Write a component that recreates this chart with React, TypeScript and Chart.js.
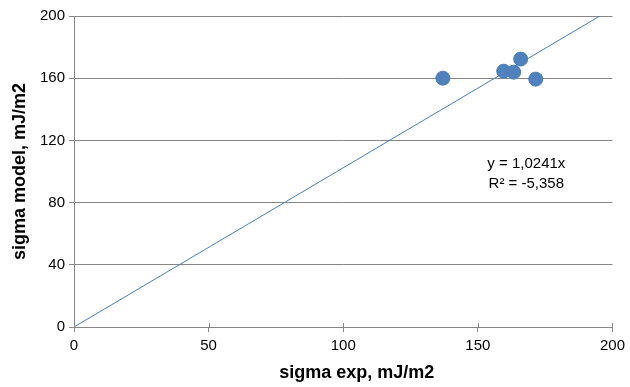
import React, { useEffect, useRef } from "react";
import { Chart, registerables } from "chart.js";

Chart.register(...registerables);

const expValues = [137.0, 159.6, 163.3, 165.9, 171.5];
const modelValues = [160.0, 164.5, 163.9, 172.3, 159.4];
const trendX = [0, 195.3];
const trendY = [0, 200];
const xTicks = [0, 50, 100, 150, 200];
const yTicks = [0, 40, 80, 120, 160, 200];
const equationLines = ["y = 1,0241x", "R\u00B2 = -5,358"];
const xTitle = "sigma exp, mJ/m2";
const yTitle = "sigma model, mJ/m2";

const FONT = "'Liberation Sans', Arial, sans-serif";
const GRID = "#868686";

const extras = {
  id: "extras",
  afterDraw(chart: any) {
    const { ctx, scales, chartArea } = chart;
    const xs = scales.x;
    const ys = scales.y;
    ctx.save();
    // upward tick marks on x axis
    ctx.strokeStyle = GRID;
    ctx.lineWidth = 1;
    xTicks.forEach((v) => {
      const px = Math.round(xs.getPixelForValue(v)) + 0.5;
      ctx.beginPath();
      ctx.moveTo(px, chartArea.bottom);
      ctx.lineTo(px, chartArea.bottom - 4);
      ctx.stroke();
    });
    // equation text
    ctx.fillStyle = "#000";
    ctx.font = `15px ${FONT}`;
    ctx.textAlign = "center";
    ctx.textBaseline = "middle";
    const cx = xs.getPixelForValue(168);
    ctx.fillText(equationLines[0], cx, ys.getPixelForValue(105));
    ctx.fillText(equationLines[1], cx, ys.getPixelForValue(92));
    // x axis title
    ctx.font = `bold 18px ${FONT}`;
    ctx.fillText(xTitle, xs.getPixelForValue(105), chartArea.bottom + 46);
    ctx.restore();
  },
};

export default function App() {
  const ref = useRef<HTMLCanvasElement | null>(null);
  useEffect(() => {
    if (!ref.current) return;
    const chart = new Chart(ref.current, {
      type: "scatter",
      data: {
        datasets: [
          {
            label: "trend",
            data: trendX.map((x, i) => ({ x, y: trendY[i] })),
            showLine: true,
            borderColor: "#4A7EBB",
            borderWidth: 1,
            pointRadius: 0,
            fill: false,
            order: 2,
          },
          {
            label: "data",
            data: expValues.map((x, i) => ({ x, y: modelValues[i] })),
            backgroundColor: "#4F81BD",
            borderColor: "#4A7EBB",
            borderWidth: 1,
            pointRadius: 7,
            order: 1,
          },
        ],
      },
      options: {
        animation: false,
        responsive: true,
        maintainAspectRatio: false,
        layout: { padding: { top: 16, right: 16, left: 0, bottom: 0 } },
        plugins: { legend: { display: false }, tooltip: { enabled: false } },
        scales: {
          x: {
            type: "linear",
            min: 0,
            max: 200,
            afterFit: (s: any) => {
              s.height = 60;
            },
            afterBuildTicks: (s: any) => {
              s.ticks = xTicks.map((v) => ({ value: v }));
            },
            ticks: { color: "#000", font: { family: FONT, size: 15 }, padding: 5 },
            grid: { drawOnChartArea: false, drawTicks: true, tickLength: 5, color: GRID },
            border: { color: GRID },
            title: { display: false, text: xTitle },
          },
          y: {
            type: "linear",
            min: 0,
            max: 200,
            afterFit: (s: any) => {
              s.width = 74;
            },
            afterBuildTicks: (s: any) => {
              s.ticks = yTicks.map((v) => ({ value: v }));
            },
            ticks: { color: "#000", font: { family: FONT, size: 15 }, padding: 4 },
            grid: { color: GRID, tickLength: 5 },
            border: { color: GRID },
            title: {
              display: true,
              text: yTitle,
              color: "#000",
              font: { family: FONT, size: 18, weight: "bold" },
              padding: { top: 9, bottom: 4 },
            },
          },
        },
      },
      plugins: [extras],
    });
    return () => chart.destroy();
  }, []);
  return (
    <div style={{ position: "fixed", left: 0, top: 0, width: 630, height: 387, background: "#fff" }}>
      <canvas ref={ref} />
    </div>
  );
}
